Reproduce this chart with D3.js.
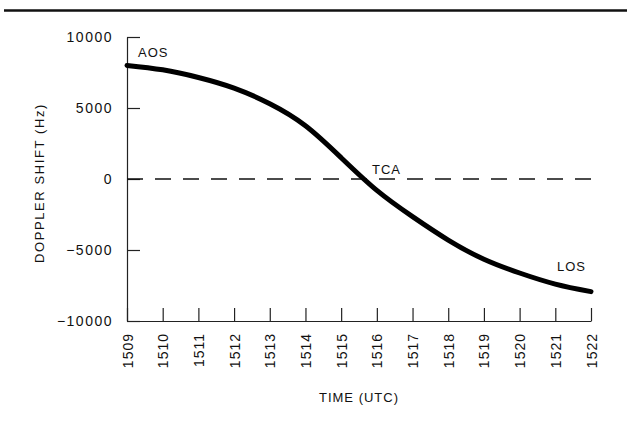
<!DOCTYPE html>
<html lang="en">
<head>
  <meta charset="UTF-8">
  <title>Doppler Shift</title>
  <script src="https://d3js.org/d3.v7.min.js"></script>
  <style>
    html, body {
      margin: 0;
      padding: 0;
      background: #fff;
    }
    svg text {
      font-family: "Liberation Sans", Arial, sans-serif;
      fill: #111;
    }
    .axis path, .axis line {
      stroke: #222;
      stroke-width: 1.2;
    }
    .axis text {
      font-size: 14px;
      letter-spacing: 1.5px;
    }
    .doppler {
      fill: none;
      stroke: #000;
      stroke-width: 5;
      stroke-linejoin: round;
      stroke-linecap: round;
    }
    .zero {
      stroke: #111;
      stroke-width: 1.4;
      stroke-dasharray: 16, 12;
    }
    .label {
      font-size: 13px;
      letter-spacing: 1px;
    }
  </style>
</head>
<body>
  <div id="container"></div>

  <script>
    const width = 627;
    const height = 423;
    const margin = {top: 37, right: 36, bottom: 102, left: 127};

    // minutes past the hour (UTC) and the doppler shift
    const times   = [1509, 1510, 1511, 1512, 1513, 1514, 1515, 1516, 1517, 1518, 1519, 1520, 1521, 1522];
    const doppler = [8000, 7690, 7150, 6400, 5300, 3750, 1500, -800, -2650, -4300, -5650, -6620, -7400, -7930];

    const xTicks = [1509, 1510, 1511, 1512, 1513, 1514, 1515, 1516, 1517, 1518, 1519, 1520, 1521, 1522];
    const yTicks = [-10000, -5000, 0, 5000, 10000];

    const events = ['AOS', 'TCA', 'LOS'];
    const eventTimes = [1509, 1515.64, 1522];
    const eventShift = [8000, 0, -7930];

    const svg = d3.select('#container').append('svg')
      .attr('width', width).attr('height', height);

    // thick rule across the top of the page
    svg.append('line')
      .attr('x1', 4).attr('x2', width).attr('y1', 10.5).attr('y2', 10.5)
      .attr('stroke', '#111').attr('stroke-width', 2.5);

    const xScale = d3.scaleLinear().domain([1509, 1522]).range([margin.left, width - margin.right]);
    const yScale = d3.scaleLinear().domain([-10000, 10000]).range([height - margin.bottom, margin.top]);

    // axes: ticks point inwards
    const yAxis = d3.axisLeft(yScale)
      .tickValues(yTicks)
      .tickFormat(d3.format('d'))
      .tickSizeInner(-13).tickSizeOuter(0).tickPadding(14);

    svg.append('g').attr('class', 'axis')
      .attr('transform', `translate(${margin.left},0)`)
      .call(yAxis);

    const xAxis = d3.axisBottom(xScale)
      .tickValues(xTicks)
      .tickFormat(d3.format('d'))
      .tickSizeInner(-13).tickSizeOuter(0);

    svg.append('g').attr('class', 'axis')
      .attr('transform', `translate(0,${height - margin.bottom})`)
      .call(xAxis)
      .selectAll('text')
        .attr('transform', 'rotate(-90)')
        .attr('x', -12).attr('y', 0).attr('dy', '0.36em')
        .style('letter-spacing', '1px')
        .style('text-anchor', 'end');

    svg.selectAll('.axis .domain').attr('fill', 'none');

    // zero line
    svg.append('line').attr('class', 'zero')
      .attr('x1', xScale(1509)).attr('x2', xScale(1522))
      .attr('y1', yScale(0)).attr('y2', yScale(0));

    // doppler curve
    const line = d3.line()
      .x((d, i) => xScale(times[i]))
      .y(d => yScale(d))
      .curve(d3.curveNatural);

    svg.append('path').datum(doppler).attr('class', 'doppler').attr('d', line);

    // event labels
    const offsets = [[11, -8], [8, -5], [-34, -21]];
    svg.selectAll('.event').data(events).enter().append('text')
      .attr('class', 'label')
      .attr('x', (d, i) => xScale(eventTimes[i]) + offsets[i][0])
      .attr('y', (d, i) => yScale(eventShift[i]) + offsets[i][1])
      .text(d => d);

    // axis titles
    svg.append('text').attr('class', 'label')
      .attr('x', (xScale(1509) + xScale(1522)) / 2).attr('y', 402)
      .attr('text-anchor', 'middle')
      .text('TIME (UTC)');

    svg.append('text').attr('class', 'label')
      .attr('transform', 'translate(44,183) rotate(-90)')
      .attr('text-anchor', 'middle')
      .style('letter-spacing', '1.6px')
      .text('DOPPLER SHIFT (Hz)');
  </script>
</body>
</html>
